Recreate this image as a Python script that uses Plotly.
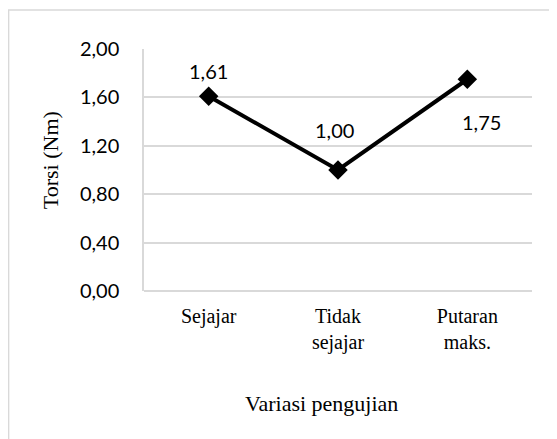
import plotly.graph_objects as go

categories = ["Sejajar", "Tidak<br>sejajar", "Putaran<br>maks."]
torsi = [1.61, 1.00, 1.75]
y_ticks = [0.0, 0.4, 0.8, 1.2, 1.6, 2.0]

# label offsets (px) as placed in the original
label_shift = [(0, 25), (-4, 40), (14, -43)]

fig = go.Figure()
fig.add_trace(go.Scatter(
    x=list(range(len(categories))), y=torsi, mode="lines+markers",
    line=dict(color="black", width=4),
    marker=dict(symbol="diamond", size=15, color="black"),
    showlegend=False, hoverinfo="skip",
))

for i, v in enumerate(torsi):
    dx, dy = label_shift[i]
    fig.add_annotation(
        x=i, y=v, text=f"{v:.2f}".replace(".", ","), showarrow=False,
        xshift=dx, yshift=dy, font=dict(family="Lato", size=20, color="black"),
    )

# axis titles
fig.add_annotation(x=-0.242, y=0.541, xref="paper", yref="paper", text="Torsi (Nm)",
                   textangle=-90, showarrow=False, xanchor="center", yanchor="middle",
                   font=dict(family="Liberation Serif", size=22, color="black"))
fig.add_annotation(x=0.458, y=-0.463, xref="paper", yref="paper", text="Variasi pengujian",
                   showarrow=False, xanchor="center", yanchor="middle",
                   font=dict(family="Liberation Serif", size=22, color="black"))

# outer chart border
fig.add_shape(type="rect", xref="paper", yref="paper",
              x0=-0.349, x1=1.3, y0=-0.7, y1=1.161,
              line=dict(color="#d9d9d9", width=1.5), fillcolor="rgba(0,0,0,0)")

# page body has an 8px margin, so the figure is sized to fit the window
fig.update_layout(
    width=549, height=431,
    margin=dict(l=136, r=25, t=41, b=148),
    paper_bgcolor="white", plot_bgcolor="white",
)
fig.update_xaxes(
    range=[-0.5, 2.5], tickvals=list(range(len(categories))), ticktext=categories,
    showgrid=False, zeroline=False, showline=False,
    ticks="outside", ticklen=7, tickcolor="rgba(0,0,0,0)",
    tickfont=dict(family="Liberation Serif", size=20, color="black"),
)
fig.update_yaxes(
    range=[0, 2.0], tickvals=y_ticks,
    ticktext=[f"{t:.2f}".replace(".", ",") for t in y_ticks],
    showgrid=True, gridcolor="#d9d9d9", gridwidth=1.5,
    zeroline=True, zerolinecolor="#d9d9d9", zerolinewidth=1.5,
    showline=True, linecolor="#d9d9d9", linewidth=1.5,
    ticks="outside", ticklen=19, tickcolor="rgba(0,0,0,0)",
    tickfont=dict(family="Lato", size=20, color="black"),
)

fig.write_html("out.html")
